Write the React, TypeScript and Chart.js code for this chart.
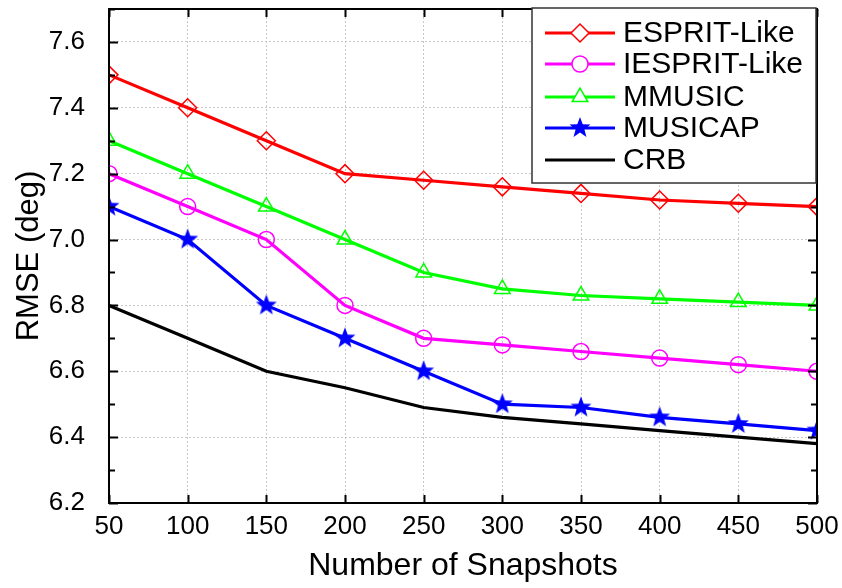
import React, { useEffect, useRef } from "react";
import { Chart, registerables } from "chart.js";
import { drawPoint } from "chart.js/helpers";

Chart.register(...registerables);

const snapshots = [50, 100, 150, 200, 250, 300, 350, 400, 450, 500];
const espritLike = [7.5, 7.4, 7.3, 7.2, 7.18, 7.16, 7.14, 7.12, 7.11, 7.1];
const iespritLike = [7.2, 7.1, 7.0, 6.8, 6.7, 6.68, 6.66, 6.64, 6.62, 6.6];
const mmusic = [7.3, 7.2, 7.1, 7.0, 6.9, 6.85, 6.83, 6.82, 6.81, 6.8];
const musicap = [7.1, 7.0, 6.8, 6.7, 6.6, 6.5, 6.49, 6.46, 6.44, 6.42];
const crb = [6.8, 6.7, 6.6, 6.55, 6.49, 6.46, 6.44, 6.42, 6.4, 6.38];

const seriesNames = ["ESPRIT-Like", "IESPRIT-Like", "MMUSIC", "MUSICAP", "CRB"];
const yTickLabels = ["6.2", "6.4", "6.6", "6.8", "7.0", "7.2", "7.4", "7.6"];

const FONT = "'Liberation Sans', Arial, Helvetica, sans-serif";

function makeStar(color: string, r: number) {
  const size = Math.ceil(r * 2 + 2);
  const c = document.createElement("canvas");
  c.width = size;
  c.height = size;
  const ctx = c.getContext("2d")!;
  const cx = size / 2;
  const cy = size / 2;
  const inner = r * 0.42;
  ctx.beginPath();
  for (let i = 0; i < 10; i++) {
    const rr = i % 2 === 0 ? r : inner;
    const a = -Math.PI / 2 + (i * Math.PI) / 5;
    const x = cx + rr * Math.cos(a);
    const y = cy + rr * Math.sin(a);
    if (i === 0) ctx.moveTo(x, y);
    else ctx.lineTo(x, y);
  }
  ctx.closePath();
  ctx.fillStyle = color;
  ctx.fill();
  return c;
}

export default function App() {
  const ref = useRef<HTMLCanvasElement>(null);

  useEffect(() => {
    const star = makeStar("#0000ff", 11);
    const toXY = (vals: number[]) => vals.map((v, i) => ({ x: snapshots[i], y: v }));

    const styles = [
      { color: "#ff0000", pointStyle: "rectRot", radius: 9 },
      { color: "#ff00ff", pointStyle: "circle", radius: 8 },
      { color: "#00ff00", pointStyle: "triangle", radius: 9 },
      { color: "#0000ff", pointStyle: star, radius: 11 },
      { color: "#000000", pointStyle: false, radius: 0 },
    ];
    const values = [espritLike, iespritLike, mmusic, musicap, crb];

    const datasets = values.map((vals, i) => ({
      label: seriesNames[i],
      data: toXY(vals),
      borderColor: styles[i].color,
      backgroundColor: "rgba(0,0,0,0)",
      borderWidth: 3.2,
      pointStyle: styles[i].pointStyle as any,
      pointRadius: styles[i].radius,
      pointBorderWidth: 1.5,
      pointBorderColor: styles[i].color,
      pointBackgroundColor: "rgba(0,0,0,0)",
      tension: 0,
      clip: 0,
      order: 5 - i,
    }));

    const framePlugin = {
      id: "frame",
      afterDatasetsDraw(chart: any) {
        const { ctx, chartArea } = chart;
        const { left, right, top, bottom } = chartArea;
        const xs = chart.scales.x;
        const ys = chart.scales.y;
        ctx.save();
        ctx.strokeStyle = "#000";
        ctx.lineWidth = 2;
        ctx.beginPath();
        for (let v = 50; v <= 500; v += 50) {
          const x = Math.round(xs.getPixelForValue(v)) + 0.5;
          ctx.moveTo(x, bottom);
          ctx.lineTo(x, bottom - 8);
          ctx.moveTo(x, top);
          ctx.lineTo(x, top + 8);
        }
        for (let k = 0; k <= 15; k++) {
          const v = 6.2 + k * 0.1;
          const y = Math.round(ys.getPixelForValue(v)) + 0.5;
          const len = k % 2 === 0 ? 9 : 6;
          ctx.moveTo(left, y);
          ctx.lineTo(left + len, y);
          ctx.moveTo(right, y);
          ctx.lineTo(right - len, y);
        }
        ctx.stroke();
        ctx.beginPath();
        ctx.rect(left, top, right - left, bottom - top);
        ctx.stroke();
        ctx.restore();
      },
      afterDraw(chart: any) {
        const { ctx, chartArea } = chart;
        const bx1 = 532;
        const by1 = chartArea.top - 1;
        const bx2 = chartArea.right - 1;
        const by2 = 183;
        ctx.save();
        ctx.fillStyle = "#fff";
        ctx.fillRect(bx1, by1, bx2 - bx1, by2 - by1);
        ctx.strokeStyle = "#333";
        ctx.lineWidth = 1.5;
        ctx.strokeRect(bx1, by1, bx2 - bx1, by2 - by1);
        const rowY = [33, 64, 97, 128, 160];
        ctx.font = `30px ${FONT}`;
        ctx.textBaseline = "middle";
        ctx.textAlign = "left";
        for (let i = 0; i < 5; i++) {
          const y = rowY[i];
          ctx.strokeStyle = styles[i].color;
          ctx.lineWidth = 3.2;
          ctx.beginPath();
          ctx.moveTo(545, y);
          ctx.lineTo(615, y);
          ctx.stroke();
          if (styles[i].pointStyle) {
            ctx.strokeStyle = styles[i].color;
            ctx.fillStyle = i === 3 ? styles[i].color : "#fff";
            ctx.lineWidth = 1.5;
            drawPoint(ctx, {
              pointStyle: styles[i].pointStyle as any,
              radius: styles[i].radius,
              rotation: 0,
              borderWidth: 1.5,
            } as any, 580, y);
          }
          ctx.fillStyle = "#000";
          ctx.fillText(seriesNames[i], 623, y + 1);
        }
        ctx.restore();
      },
    };

    const chart = new Chart(ref.current!, {
      type: "line",
      data: { datasets },
      options: {
        animation: false,
        responsive: false,
        maintainAspectRatio: false,
        layout: { autoPadding: false, padding: { top: 9, right: 25, left: 0, bottom: 0 } },
        plugins: {
          legend: { display: false },
          tooltip: { enabled: false },
        },
        scales: {
          x: {
            type: "linear",
            min: 50,
            max: 500,
            afterFit: (s: any) => {
              s.height = 85;
              s.paddingLeft = 0;
              s.paddingRight = 0;
            },
            ticks: {
              stepSize: 50,
              color: "#000",
              padding: 8,
              maxRotation: 0,
              font: { family: FONT, size: 26 },
            },
            grid: { color: "#c8c8c8", lineWidth: 1, drawTicks: false },
            border: { display: false, dash: [2, 2] },
            title: {
              display: true,
              text: "Number of Snapshots",
              color: "#000",
              font: { family: FONT, size: 32 },
              padding: { top: 0, bottom: 3 },
            },
          },
          y: {
            type: "linear",
            min: 6.2,
            max: 7.7,
            afterFit: (s: any) => {
              s.width = 109;
              s.paddingTop = 0;
              s.paddingBottom = 0;
            },
            ticks: {
              stepSize: 0.2,
              includeBounds: false,
              color: "#000",
              padding: 24,
              font: { family: FONT, size: 26 },
              callback: (v: any) => {
                const s = Number(v).toFixed(1);
                return yTickLabels.includes(s) ? s : "";
              },
            },
            grid: { color: "#c8c8c8", lineWidth: 1, drawTicks: false },
            border: { display: false, dash: [2, 2] },
            title: {
              display: true,
              text: "RMSE (deg)",
              color: "#000",
              font: { family: FONT, size: 31 },
              padding: { top: 11, bottom: 0 },
            },
          },
        },
      },
      plugins: [framePlugin],
    });
    return () => chart.destroy();
  }, []);

  return (
    <div style={{ position: "fixed", left: 0, top: 0, width: 842, height: 588, background: "#fff" }}>
      <canvas ref={ref} width={842} height={588} style={{ width: 842, height: 588 }} />
    </div>
  );
}
